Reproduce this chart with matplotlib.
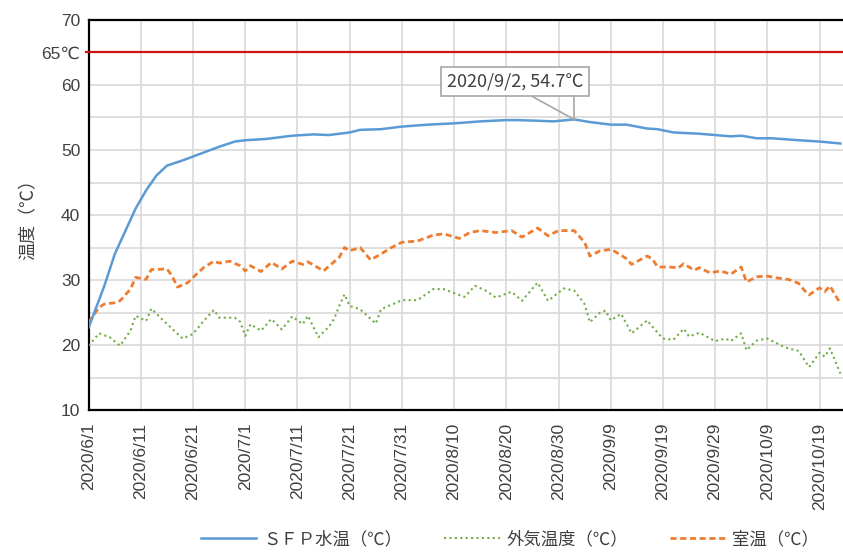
import numpy as np
import pandas as pd
import matplotlib
matplotlib.use("Agg")
import matplotlib.pyplot as plt

plt.rcParams['font.family'] = ['Noto Sans CJK JP', 'DejaVu Sans']
TICK_FONT = ['Liberation Sans Narrow', 'Liberation Sans', 'DejaVu Sans']

START = np.datetime64('2020-06-01')

# SFPプール水温 (day offset from 6/1, ℃)
sfp_days = [0, 3, 5, 7, 9, 11, 13, 15, 18, 20, 25, 28, 30, 34, 39, 43, 46, 50, 52, 56,
            60, 65, 70, 75, 80, 82, 86, 89, 93, 96, 98, 100, 103, 107, 109, 112, 117,
            120, 123, 125, 128, 131, 136, 140, 144]
sfp_temp = [22.7, 29.1, 34.0, 37.5, 41.0, 43.8, 46.1, 47.6, 48.4, 49.0, 50.5, 51.3, 51.5,
            51.7, 52.2, 52.4, 52.3, 52.7, 53.1, 53.2, 53.6, 53.9, 54.1, 54.4, 54.6, 54.6,
            54.5, 54.4, 54.7, 54.3, 54.1, 53.9, 53.9, 53.3, 53.2, 52.7, 52.5, 52.3, 52.1,
            52.2, 51.8, 51.8, 51.5, 51.3, 51.0]

# 外気温度
out_days = [0, 2, 4, 6, 8, 9, 11, 12, 14, 18, 20, 22, 24, 25, 28, 29, 30, 31, 33, 35,
            37, 39, 41, 42, 44, 46, 47, 48, 49, 50, 52, 55, 56, 60, 63, 66, 68, 72, 74,
            76, 78, 81, 83, 86, 88, 91, 93, 95, 96, 98, 99, 100, 102, 104, 107, 108, 110,
            112, 114, 115, 117, 120, 122, 123, 125, 126, 128, 130, 133, 134, 136, 138,
            140, 141, 142, 144]
out_temp = [19.9, 21.8, 21.2, 19.9, 22.2, 24.5, 23.7, 25.6, 24.0, 21.0, 21.7, 23.7, 25.4,
            24.2, 24.2, 23.6, 21.4, 23.2, 22.2, 24.0, 22.4, 24.4, 23.2, 24.5, 21.2, 22.8,
            24.0, 26.0, 27.8, 26.0, 25.5, 23.3, 25.5, 26.9, 26.9, 28.6, 28.6, 27.4, 29.1,
            28.4, 27.3, 28.2, 26.8, 29.6, 26.8, 28.7, 28.4, 26.3, 23.5, 25.0, 25.3, 23.8,
            24.8, 21.8, 23.8, 22.8, 21.0, 20.8, 22.5, 21.3, 21.9, 20.6, 21.0, 20.6, 21.8,
            19.2, 20.7, 21.0, 19.8, 19.5, 19.1, 16.6, 18.8, 18.2, 19.5, 15.6]

# 室温
room_days = [0, 2, 3, 5, 6, 8, 9, 11, 12, 15, 16, 17, 19, 20, 22, 24, 25, 27, 29, 30,
             31, 33, 35, 37, 39, 41, 42, 45, 47, 48, 49, 50, 52, 54, 56, 58, 60, 63, 66,
             68, 71, 73, 75, 78, 81, 83, 86, 88, 90, 93, 95, 96, 98, 100, 101, 103, 104,
             107, 108, 109, 111, 113, 114, 116, 117, 119, 121, 123, 125, 126, 128, 130,
             132, 134, 136, 137, 138, 140, 141, 142, 143, 144]
room_temp = [23.5, 25.8, 26.3, 26.5, 26.8, 28.6, 30.4, 30.1, 31.6, 31.7, 30.6, 28.9, 29.6,
             30.4, 31.9, 32.9, 32.6, 32.9, 32.2, 31.4, 32.2, 31.3, 32.7, 31.7, 32.9, 32.4,
             32.8, 31.4, 32.8, 33.5, 35.0, 34.5, 35.0, 33.1, 34.0, 35.0, 35.8, 36.0, 36.9,
             37.1, 36.4, 37.3, 37.6, 37.3, 37.6, 36.6, 38.0, 36.8, 37.6, 37.6, 35.8, 33.7,
             34.5, 34.7, 34.3, 33.3, 32.4, 33.7, 33.2, 32.0, 32.0, 31.9, 32.5, 31.5, 31.9,
             31.1, 31.4, 30.9, 32.0, 29.7, 30.5, 30.6, 30.3, 30.1, 29.5, 28.5, 27.7, 28.8,
             28.2, 29.1, 27.7, 26.4]

LIMIT = 65
peak_day, peak_temp = 93, 54.7

tick_dates = pd.date_range('2020-06-01', periods=15, freq='10D')
tick_labels = [f"{d.year}/{d.month}/{d.day}" for d in tick_dates]


def to_dates(days):
    return START + np.array(days).astype('timedelta64[D]')


fig = plt.figure(figsize=(8.43, 5.52), dpi=100)
ax = fig.add_axes([0.1052, 0.2572, 0.8948, 0.7066])

ax.plot(to_dates(sfp_days), sfp_temp, color='#5B9BD5', lw=1.8,
        label='ＳＦＰ水温（℃）', zorder=4)
ax.plot(to_dates(out_days), out_temp, color='#70AD47', lw=1.5, ls=(0, (1, 1.6)),
        label='外気温度（℃）', zorder=3)
ax.plot(to_dates(room_days), room_temp, color='#ED7D31', lw=2.0, ls=(0, (2.2, 1.3)),
        label='室温（℃）', zorder=3)

ax.axhline(LIMIT, color='#CC1414', lw=1.6, zorder=5, clip_on=False, xmin=-0.004)

ax.set_ylim(10, 70)
ax.set_yticks([10, 20, 30, 40, 50, 60, 65, 70])
ax.set_yticklabels(['10', '20', '30', '40', '50', '60', '65℃', '70'],
                   family=TICK_FONT + ['Noto Sans CJK JP'], fontsize=12.5)
ax.set_yticks(np.arange(10, 71, 5), minor=True)
ax.set_xlim(START, START + np.timedelta64(int(144.5 * 24), 'h'))
ax.set_xticks(tick_dates)
ax.set_xticklabels(tick_labels, rotation=90, family=TICK_FONT, fontsize=12.5)

ax.grid(True, which='both', axis='y', color='#D9D9D9', lw=1.2, zorder=0)
ax.grid(True, which='major', axis='x', color='#D9D9D9', lw=1.2, zorder=0)
ax.tick_params(axis='both', which='both', length=0, pad=6, colors='#404040')
ax.tick_params(axis='x', pad=9)

for side in ['left', 'bottom', 'top']:
    ax.spines[side].set_linewidth(1.6)
    ax.spines[side].set_color('black')
ax.spines['right'].set_visible(False)

ax.set_ylabel('温度（℃）', fontsize=13, color='#404040', labelpad=3)

# data label callout for the peak water temperature
peak_xy = (START + np.timedelta64(peak_day, 'D'), peak_temp)
callout = ax.annotate(f"2020/9/2, {peak_temp}℃", xy=peak_xy,
                      xytext=(START + np.timedelta64(int(81.7 * 24), 'h'), 60.5),
                      ha='center', va='center', fontsize=13, color='#404040', zorder=6,
                      bbox=dict(boxstyle='square,pad=0.3', fc='white', ec='#A6A6A6', lw=1.2),
                      arrowprops=dict(arrowstyle='-', color='#A6A6A6', lw=1.2,
                                      relpos=(0.55, 0), shrinkA=0, shrinkB=0))
ax.annotate('', xy=peak_xy, xytext=(0.9, 0), textcoords=callout.get_bbox_patch(),
            zorder=6, arrowprops=dict(arrowstyle='-', color='#A6A6A6', lw=1.2,
                                      shrinkA=0, shrinkB=0))

fig.legend(loc='lower center', bbox_to_anchor=(0.605, -0.022), ncol=3, frameon=False,
           fontsize=12.5, handlelength=3.2, handletextpad=0.4, columnspacing=2.4,
           labelcolor='#404040')

fig.savefig('out.png', dpi=100)
